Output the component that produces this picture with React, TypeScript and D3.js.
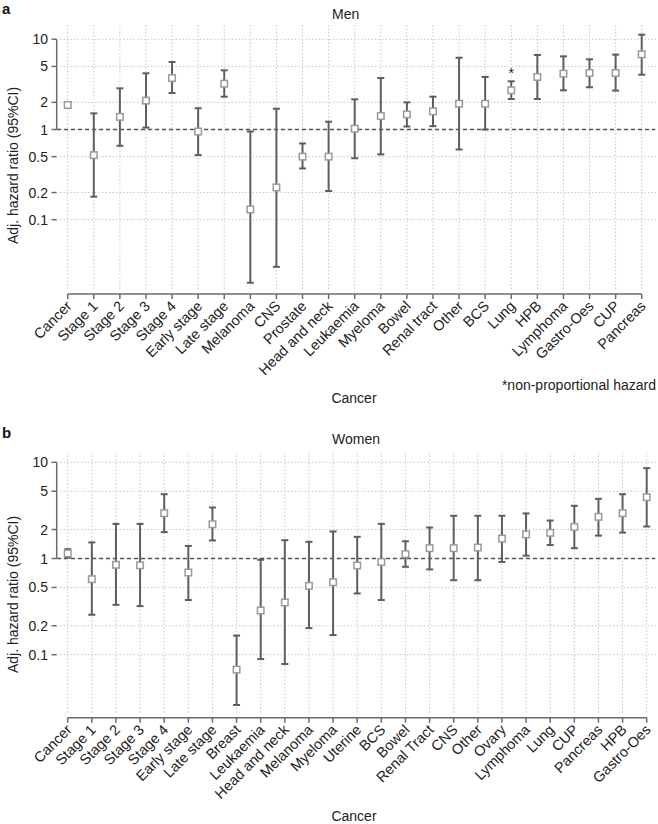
import * as d3 from "d3";

const yTicks = [10, 5, 2, 1, 0.5, 0.2, 0.1];

const menCategories = [
  "Cancer", "Stage 1", "Stage 2", "Stage 3", "Stage 4", "Early stage", "Late stage",
  "Melanoma", "CNS", "Prostate", "Head and neck", "Leukaemia", "Myeloma", "Bowel",
  "Renal tract", "Other", "BCS", "Lung", "HPB", "Lymphoma", "Gastro-Oes", "CUP", "Pancreas",
];
const menEst = [1.87, 0.52, 1.38, 2.09, 3.72, 0.95, 3.22, 0.13, 0.228, 0.5, 0.5, 1.02, 1.41, 1.47, 1.59, 1.93, 1.93, 2.72, 3.82, 4.16, 4.23, 4.23, 6.81];
const menLo = [1.75, 0.18, 0.66, 1.05, 2.54, 0.52, 2.31, 0.02, 0.03, 0.37, 0.208, 0.48, 0.53, 1.08, 1.09, 0.6, 1.0, 2.18, 2.18, 2.72, 2.94, 2.7, 4.05];
const menHi = [1.99, 1.51, 2.86, 4.2, 5.6, 1.72, 4.53, 0.95, 1.7, 0.7, 1.22, 2.16, 3.72, 2.0, 2.31, 6.25, 3.82, 3.42, 6.7, 6.47, 6.0, 6.76, 11.25];
const menFlagged = ["Lung"];

const womenCategories = [
  "Cancer", "Stage 1", "Stage 2", "Stage 3", "Stage 4", "Early stage", "Late stage",
  "Breast", "Leukaemia", "Head and neck", "Melanoma", "Myeloma", "Uterine", "BCS", "Bowel",
  "Renal Tract", "CNS", "Other", "Ovary", "Lymphoma", "Lung", "CUP", "Pancreas", "HPB", "Gastro-Oes",
];
const womenEst = [1.13, 0.61, 0.86, 0.85, 2.96, 0.715, 2.27, 0.07, 0.288, 0.349, 0.52, 0.567, 0.846, 0.92, 1.11, 1.28, 1.28, 1.3, 1.61, 1.78, 1.85, 2.13, 2.71, 2.96, 4.34];
const womenLo = [1.02, 0.26, 0.33, 0.32, 1.88, 0.37, 1.54, 0.03, 0.09, 0.08, 0.189, 0.16, 0.433, 0.37, 0.82, 0.77, 0.595, 0.595, 0.92, 1.07, 1.38, 1.28, 1.73, 1.86, 2.15];
const womenHi = [1.25, 1.47, 2.29, 2.29, 4.66, 1.35, 3.39, 0.158, 0.97, 1.55, 1.49, 1.91, 1.68, 2.29, 1.51, 2.1, 2.78, 2.78, 2.78, 2.94, 2.48, 3.53, 4.17, 4.66, 8.69];

const FONT = "'Liberation Sans', Arial, Helvetica, sans-serif";
const AXIS = "#6b6b6b";
const GRID = "#c8c8c8";

interface PanelProps {
  letter: string;
  title: string;
  categories: string[];
  est: number[];
  lo: number[];
  hi: number[];
  flagged: string[];
  top: number; // y of the 10 tick
  bottom: number; // y of the 0.1 tick
  axisY: number;
  xRight: number;
  gridTop: number;
  letterY: number;
  titleY: number;
  xTitleY: number;
  note?: string;
}

function Panel(p: PanelProps) {
  const x = d3.scalePoint<string>().domain(p.categories).range([67.7, p.xRight]);
  const y = d3.scaleLog().domain([0.1, 10]).range([p.bottom, p.top]);
  const data = p.categories.map((c, i) => ({ c, est: p.est[i], lo: p.lo[i], hi: p.hi[i] }));
  const cap = 3.5;
  const sq = 6.5;

  return (
    <g fontFamily={FONT}>
      <text x={2} y={p.letterY} fontSize={15} fontWeight="bold" fill="#111">{p.letter}</text>
      <text x={332} y={p.titleY} fontSize={14} fill="#222">{p.title}</text>

      {/* grid */}
      {p.categories.map((c) => (
        <line key={"vg" + c} x1={x(c)} x2={x(c)} y1={p.gridTop} y2={p.axisY - 4}
          stroke={GRID} strokeWidth={1} strokeDasharray="1.5,2" />
      ))}
      {yTicks.map((t) => (
        <line key={"hg" + t} x1={60} x2={656} y1={y(t)} y2={y(t)}
          stroke={GRID} strokeWidth={1} strokeDasharray="1.5,2" />
      ))}

      {/* reference line */}
      <line x1={57} x2={655} y1={y(1)} y2={y(1)} stroke="#555" strokeWidth={1.4} strokeDasharray="4,3" />

      {/* y axis */}
      <line x1={56.7} x2={56.7} y1={y(10)} y2={y(1)} stroke={AXIS} strokeWidth={1.5} />
      {yTicks.map((t) => (
        <g key={"yt" + t}>
          <line x1={51.5} x2={56.7} y1={y(t)} y2={y(t)} stroke={AXIS} strokeWidth={1.5} />
          <text x={48} y={y(t)} dy="0.36em" textAnchor="end" fontSize={14} fill="#222">{t}</text>
        </g>
      ))}
      <text transform={`translate(18,${(p.top + p.bottom) / 2 + 36}) rotate(-90)`} textAnchor="middle"
        fontSize={14} fill="#222">Adj. hazard ratio (95%CI)</text>

      {/* x axis */}
      <line x1={x(p.categories[0])} x2={p.xRight} y1={p.axisY} y2={p.axisY} stroke={AXIS} strokeWidth={1.5} />
      {p.categories.map((c) => (
        <g key={"xt" + c}>
          <line x1={x(c)} x2={x(c)} y1={p.axisY} y2={p.axisY + 5} stroke={AXIS} strokeWidth={1.5} />
          <text transform={`translate(${(x(c) as number) + 5},${p.axisY + 13}) rotate(-45)`}
            textAnchor="end" fontSize={14.5} fill="#222">{c}</text>
        </g>
      ))}
      <text x={354} y={p.xTitleY} textAnchor="middle" fontSize={14} fill="#222">Cancer</text>
      {p.note && (
        <text x={656} y={p.axisY + 96} textAnchor="end" fontSize={14} fill="#222">{p.note}</text>
      )}

      {/* error bars */}
      {data.map((d) => {
        const cx = x(d.c) as number;
        return (
          <g key={"eb" + d.c} stroke="#5e5e5e" strokeWidth={2}>
            <line x1={cx} x2={cx} y1={y(d.lo)} y2={y(d.hi)} />
            <line x1={cx - cap} x2={cx + cap} y1={y(d.lo)} y2={y(d.lo)} />
            <line x1={cx - cap} x2={cx + cap} y1={y(d.hi)} y2={y(d.hi)} />
          </g>
        );
      })}
      {data.map((d) => (
        <rect key={"pt" + d.c} x={(x(d.c) as number) - sq / 2} y={y(d.est) - sq / 2} width={sq} height={sq}
          fill="#fff" stroke="#9a9a9a" strokeWidth={1.5} />
      ))}
      {data.filter((d) => p.flagged.includes(d.c)).map((d) => (
        <text key={"fl" + d.c} x={x(d.c)} y={y(d.hi) - 3} textAnchor="middle" fontSize={14} fill="#222">*</text>
      ))}
    </g>
  );
}

export default function App() {
  return (
    <svg width={658} height={824} style={{ position: "absolute", left: 0, top: 0, background: "#fff" }}>
      <rect width={658} height={824} fill="#fff" />
      <Panel letter="a" title="Men" categories={menCategories} est={menEst} lo={menLo} hi={menHi}
        flagged={menFlagged} top={39.3} bottom={219.7} axisY={294} xRight={641.7} gridTop={25}
        letterY={13.5} titleY={18.5} xTitleY={403} note="*non-proportional hazard" />
      <Panel letter="b" title="Women" categories={womenCategories} est={womenEst} lo={womenLo} hi={womenHi}
        flagged={[]} top={462.3} bottom={654.7} axisY={717.7} xRight={646.7} gridTop={452}
        letterY={438} titleY={444} xTitleY={821} />
    </svg>
  );
}
